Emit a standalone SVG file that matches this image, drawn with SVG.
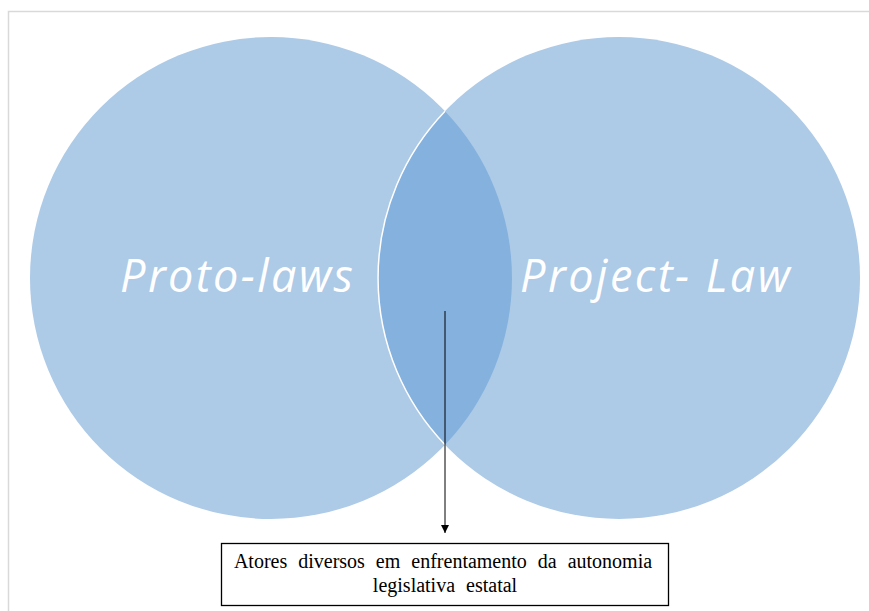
<svg xmlns="http://www.w3.org/2000/svg" width="869" height="611" viewBox="0 0 869 611">
<defs>
<style>
.circ{fill:#ADCAE7;}
.lens{fill:#84B1DD;}
.big{font-family:"Open Sans","DejaVu Sans",sans-serif;font-style:italic;font-size:45px;fill:#FFFFFF;}
.lbl{font-family:"Liberation Serif","Times New Roman",serif;font-size:20px;word-spacing:6px;fill:#000000;}
</style>
<marker id="arr" viewBox="0 0 10 10" refX="10" refY="5" markerWidth="8" markerHeight="8" markerUnits="userSpaceOnUse" orient="auto">
<path d="M0,0 L10,5 L0,10 Z" fill="#000"/>
</marker>
</defs>
<rect width="869" height="611" fill="#FFFFFF"/>
<path d="M8.5,611 V11.5 H869" fill="none" stroke="#D9D9D9" stroke-width="1.5"/>
<g id="proto-laws">
<circle class="circ" cx="271" cy="278" r="241"/>
<text class="big" x="120" y="292" textLength="233" lengthAdjust="spacing">Proto-laws</text>
</g>
<g id="project-law">
<circle class="circ" cx="619" cy="278" r="241"/>
<text class="big" x="520" y="292" textLength="270" lengthAdjust="spacing">Project- Law</text>
</g>
<g id="intersection">
<path class="lens" d="M445,111.3 A241,241 0 0 1 445,444.7 A241,241 0 0 1 445,111.3 Z"/>
<path d="M445,111.3 A241,241 0 0 0 445,444.7" fill="none" stroke="#FFFFFF" stroke-width="1.5"/>
</g>
<g id="connectors">
<line x1="445" y1="311" x2="445" y2="533" stroke="#000" stroke-width="1" marker-end="url(#arr)"/>
</g>
<g id="actors">
<rect x="221.5" y="543.5" width="447" height="62" fill="#FFFFFF" stroke="#000" stroke-width="1.3"/>
<text class="lbl" x="443" y="568" text-anchor="middle">Atores diversos em enfrentamento da autonomia</text>
<text class="lbl" x="445" y="592" text-anchor="middle">legislativa estatal</text>
</g>
</svg>
